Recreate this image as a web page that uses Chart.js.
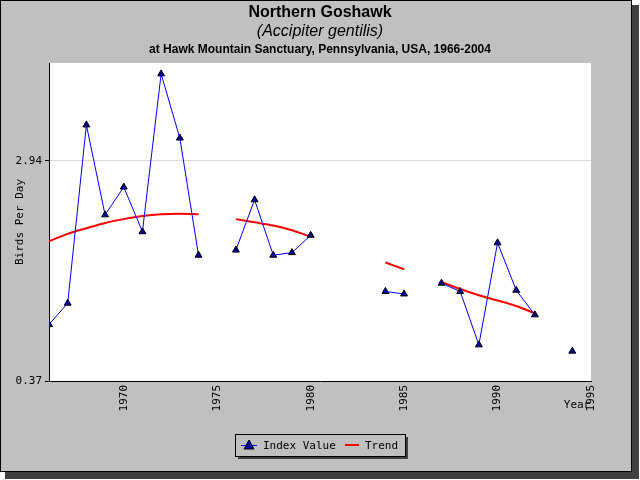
<!DOCTYPE html>
<html><head><meta charset="utf-8">
<script src="https://cdn.jsdelivr.net/npm/chart.js@4"></script>
<style>html,body{margin:0;padding:0;background:#fff}canvas{display:block}</style>
</head><body><div style="width:640px;height:480px"><canvas id="c"></canvas></div>
<script>
const years=[1966,1967,1968,1969,1970,1971,1972,1973,1974,1975,1976,1977,1978,1979,1980,1981,1982,1983,1984,1985,1986,1987,1988,1989,1990,1991,1992,1993,1994];
const indexValues=[0.63,0.77,4.13,1.77,2.30,1.51,6.68,3.65,1.21,null,1.27,2.04,1.21,1.24,1.46,null,null,null,0.86,0.84,null,0.93,0.86,0.52,1.36,0.87,0.69,null,0.49];
const trendValues=[1.38,1.48,1.56,1.64,1.70,1.75,1.78,1.79,1.78,null,1.70,1.65,1.60,1.53,1.44,null,null,null,1.13,1.06,null,0.94,0.88,0.83,0.79,0.75,0.70,null,null];
const yTicks=[0.37,2.94];
const xTicks=[1970,1975,1980,1985,1990,1995];
const pts=a=>years.map((y,i)=>({x:y,y:a[i]}));
const frame={id:'frame',beforeDraw(ch){const c=ch.ctx,a=ch.chartArea;c.save();
c.fillStyle='#404040';c.fillRect(5,5,634,474);
c.fillStyle='#c0c0c0';c.fillRect(0,0,632,472);c.strokeStyle='#000';c.lineWidth=1;c.strokeRect(0.5,0.5,631,471);
c.fillStyle='#fff';c.fillRect(a.left,a.top,a.right-a.left,a.bottom-a.top);c.restore();},
afterDraw(ch){const c=ch.ctx;c.save();c.fillStyle='#000';c.textAlign='center';c.textBaseline='alphabetic';
c.font='bold 16px "Liberation Sans",Arial';c.fillText('Northern Goshawk',320,17);
c.font='italic 16px "Liberation Sans",Arial';c.fillText('(Accipiter gentilis)',320,36);
c.font='bold 12px "Liberation Sans",Arial';c.fillText('at Hawk Mountain Sanctuary, Pennsylvania, USA, 1966-2004',320,53);
c.font='11px "DejaVu Sans Mono",monospace';c.fillText('Year',577,408);
c.save();c.translate(23,222);c.rotate(-Math.PI/2);c.fillText('Birds Per Day',0,0);c.restore();
const lx=235,ly=434,lw=170,lh=22;c.fillStyle='#404040';c.fillRect(lx+3,ly+3,lw,lh);
c.fillStyle='#c0c0c0';c.fillRect(lx,ly,lw,lh);c.strokeStyle='#000';c.strokeRect(lx+0.5,ly+0.5,lw,lh);
const ds=ch.data.datasets;c.textAlign='left';c.fillStyle='#000';
c.strokeStyle='blue';c.beginPath();c.moveTo(lx+6,ly+11.5);c.lineTo(lx+22,ly+11.5);c.stroke();
c.fillStyle='#0000a0';c.beginPath();c.moveTo(lx+14,ly+6);c.lineTo(lx+19,ly+15);c.lineTo(lx+9,ly+15);c.closePath();c.fill();c.strokeStyle='#000';c.stroke();
c.fillStyle='#000';c.fillText(ds[0].label,lx+28,ly+15);
c.strokeStyle='red';c.lineWidth=2;c.beginPath();c.moveTo(lx+110,ly+11);c.lineTo(lx+124,ly+11);c.stroke();
c.fillText(ds[1].label,lx+130,ly+15);c.restore();}};
new Chart(document.getElementById('c'),{type:'line',
data:{datasets:[
{label:'Index Value',data:pts(indexValues),borderColor:'#0000ff',borderWidth:1,pointStyle:'triangle',pointRadius:4,pointBackgroundColor:'#0000a0',pointBorderColor:'#000',pointBorderWidth:1,spanGaps:false,tension:0},
{label:'Trend',data:pts(trendValues),borderColor:'#ff0000',borderWidth:2,pointRadius:0,spanGaps:false,tension:0.3}]},
options:{responsive:true,maintainAspectRatio:false,animation:false,
layout:{padding:{left:0,top:63,right:49,bottom:59}},
plugins:{legend:{display:false},tooltip:{enabled:false}},
scales:{
x:{type:'linear',min:1966,max:1995,afterBuildTicks:s=>{s.ticks=xTicks.map(v=>({value:v}))},
afterFit:s=>{s.height=40},grid:{display:false,drawTicks:true,tickLength:4},border:{color:'#000'},
ticks:{padding:0,minRotation:90,maxRotation:90,color:'#000',font:{family:'"DejaVu Sans Mono",monospace',size:11},callback:v=>String(v)}},
y:{type:'logarithmic',min:0.37,max:7.4,afterBuildTicks:s=>{s.ticks=yTicks.map(v=>({value:v}))},
afterFit:s=>{s.width=49},grid:{color:'#d8d8d8',drawTicks:true,tickColor:'#000',tickLength:4},border:{color:'#000'},
ticks:{color:'#000',font:{family:'"DejaVu Sans Mono",monospace',size:11},callback:v=>v.toFixed(2)}}}},
plugins:[frame]});
</script></body></html>
